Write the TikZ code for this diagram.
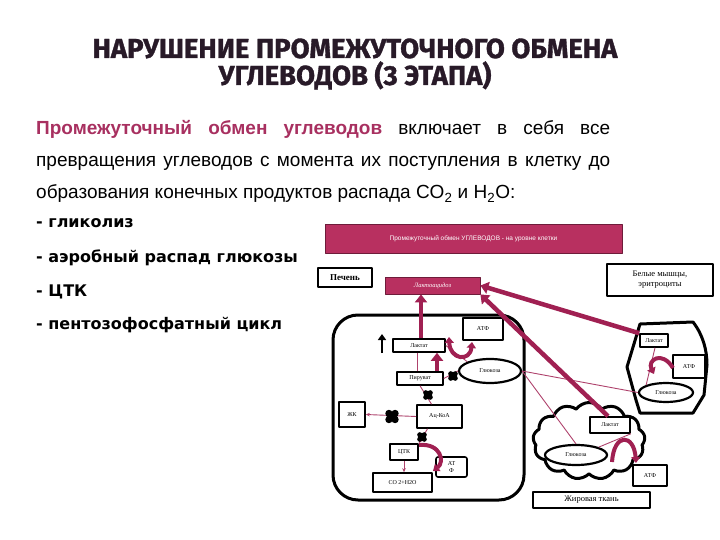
\documentclass[tikz,border=0pt]{standalone}
\usepackage{fontspec}
\setmainfont{Liberation Serif}
\newfontfamily\titlefont{Fira Sans}[BoldFeatures={FakeBold=1.2}]
\newfontfamily\parafont{Liberation Sans}
\newfontfamily\listfont{DejaVu Sans}
\usepackage{tikz}
\usetikzlibrary{positioning,arrows.meta,shapes.symbols,shapes.geometric}
\definecolor{magdeep}{RGB}{160,32,82}
\definecolor{magband}{RGB}{184,48,96}
\definecolor{magedge}{RGB}{110,28,58}
\definecolor{magtext}{RGB}{168,48,96}
\definecolor{titlecol}{RGB}{40,26,40}

\begin{document}
\begin{tikzpicture}[x=1pt, y=-1pt, line join=round,
  tagbox/.style={draw, fill=white, line width=1.6pt, font=\fontsize{6}{7}\selectfont, inner sep=0pt},
  sugar/.style={ellipse, draw, fill=white, line width=2.2pt, font=\fontsize{6}{7}\selectfont, inner sep=0pt},
  namebox/.style={draw, fill=white, line width=2.4pt, inner sep=0pt, align=center},
  thin/.style={magdeep!85, line width=0.9pt},
  thinarr/.style={thin, -{Stealth[length=4pt,width=3.5pt]}},
  fatarr/.style={magdeep, line width=4.5pt, -{Triangle[width=12pt,length=8pt]}},
  curl/.style={magdeep, line width=4pt, -{Triangle[width=9pt,length=6pt]}},
  stopmark/.pic={\fill (-2.2,-2.2) circle (2.6) (2.2,-2.2) circle (2.6) (-2.2,2.2) circle (2.6) (2.2,2.2) circle (2.6) (0,0) circle (2.6);}]
\useasboundingbox (0,0) rectangle (720,540);
% ---- title and text
\node[font=\titlefont\bfseries\fontsize{27.5}{27}\selectfont, text=titlecol, align=center] (title) at (355,64)
  {НАРУШЕНИЕ ПРОМЕЖУТОЧНОГО ОБМЕНА\\УГЛЕВОДОВ (3 ЭТАПА)};
\node[anchor=base west, inner sep=0pt, font=\parafont\fontsize{19}{22}\selectfont] (p1) at (36,135)
  {\makebox[574pt][s]{\textcolor{magtext}{\bfseries Промежуточный обмен углеводов} включает в себя все}};
\node[anchor=base west, inner sep=0pt, font=\parafont\fontsize{19}{22}\selectfont] (p2) at (36,167)
  {\makebox[574pt][s]{превращения углеводов с момента их поступления в клетку до}};
\node[anchor=base west, inner sep=0pt, font=\parafont\fontsize{19}{22}\selectfont] (p3) at (36,199)
  {образования конечных продуктов распада CO\textsubscript{2} и H\textsubscript{2}O:};
\foreach \txt/\yy [count=\i] in {гликолиз/228, аэробный распад глюкозы/262, ЦТК/296, пентозофосфатный цикл/329}
  \node[anchor=base west, inner sep=0pt, font=\listfont\bfseries\fontsize{16}{19}\selectfont] (l\i) at (36,\yy) {- \txt};
% ---- top row
\node[draw=magedge, fill=magband, line width=1pt, minimum width=297pt, minimum height=28pt, text=white,
  font=\parafont\fontsize{6.5}{7}\selectfont] (band) at (473.5,239) {Промежуточный обмен УГЛЕВОДОВ - на уровне клетки};
\node[namebox, minimum width=54pt, minimum height=19pt, font=\bfseries\fontsize{9}{10}\selectfont] (liverName) at (345,277.5) {Печень};
\node[draw=magedge, fill=magband, line width=0.8pt, minimum width=95pt, minimum height=17pt, text=white,
  font=\itshape\fontsize{6.5}{7}\selectfont] (lacto) at (432.5,285.5) {Лактоацидоз};
\node[namebox, minimum width=106pt, minimum height=32pt, font=\fontsize{8.5}{10}\selectfont] (muscName) at (660,280) {Белые мышцы,\\эритроциты};
% ---- liver cell
\node[draw, line width=3pt, rounded corners=25pt, minimum width=191pt, minimum height=185pt] (liver) at (428.5,407.5) {};
\node[tagbox, minimum width=40pt, minimum height=22pt] (atpL) at (483,329) {АТФ};
\node[tagbox, minimum width=52pt, minimum height=13pt] (lacL) at (419,345.5) {Лактат};
\node[tagbox, minimum width=46pt, minimum height=13pt] (pyrL) at (420,378.5) {Пируват};
\node[sugar, minimum width=62pt, minimum height=24pt] (gluL) at (490,371) {Глюкоза};
\node[tagbox, minimum width=26pt, minimum height=25pt] (fa) at (352,414.5) {ЖК};
\node[tagbox, minimum width=45pt, minimum height=23pt] (acoa) at (439.5,416.5) {Ац-КоА};
\node[tagbox, minimum width=28pt, minimum height=16pt] (tca) at (404,452) {ЦТК};
\node[tagbox, rounded corners=2pt, minimum width=31pt, minimum height=20pt, align=center] (atpT) at (451.5,467) {АТ\\Ф};
\node[tagbox, minimum width=59pt, minimum height=19pt] (co2) at (402.5,482.5) {СО 2+Н2О};
\coordinate (upBot) at (382,353);
\coordinate (upTop) at (382,334);
\draw[-{Triangle[width=8pt,length=6pt]}, line width=2.6pt] (upBot) -- (upTop);
\draw[thin] ([xshift=-2pt]lacL.south) -- ([xshift=-2pt]lacL.south |- pyrL.north);
\draw[thin] (gluL.north west) -- (lacL.east);
\draw[thin] (gluL.west) -- (pyrL.east);
\draw[thin] (pyrL.south) -- ([xshift=-8pt]acoa.north);
\draw[thinarr] (acoa.west) -- (fa.east);
\draw[thinarr] ([xshift=-12pt]acoa.south) -- (tca.north east);
\draw[thinarr] (tca.south) -- (tca.south |- co2.north);
\draw[fatarr] ([xshift=2pt]lacL.north) -- ([xshift=2pt]lacL.north |- lacto.south);
\draw[fatarr] ([xshift=17pt]pyrL.north) -- ([xshift=17pt]pyrL.north |- lacL.south);
\draw[curl, {Triangle[width=9pt,length=6pt]}-{Triangle[width=9pt,length=6pt]}] (449,337) .. controls (450,360) and (470,362) .. (472,342);
\draw[curl] (419,445) .. controls (441,443) and (445,462) .. (433,471);
\pic at (453,376) {stopmark};
\pic at (428,395) {stopmark};
\pic[scale=1.4] at (392,416.5) {stopmark};
\pic at (422,437) {stopmark};
% ---- muscle cell
\draw[line width=3pt] (640,324) -- (693,322) .. controls (703,335) and (707,350) .. (707,365) -- (704,395)
  -- (693,413) -- (640,413) -- (636,400) -- (627,367) -- cycle;
\node[tagbox, minimum width=28pt, minimum height=13pt] (lacM) at (654,340.5) {Лактат};
\node[tagbox, minimum width=32pt, minimum height=23pt] (atpM) at (689,366.5) {АТФ};
\node[sugar, minimum width=54pt, minimum height=19pt] (gluM) at (666,392.5) {Глюкоза};
\draw[thin] ([xshift=1pt]lacM.south) -- (gluM.north west);
\draw[curl] (673,368) .. controls (662,350) and (647,360) .. (654,374);
% ---- fat tissue
\node[cloud, draw, line width=3pt, cloud puffs=13, cloud puff arc=110, aspect=1.45, minimum width=112pt, minimum height=77pt] (fat) at (589,441) {};
\node[tagbox, minimum width=40pt, minimum height=16pt] (lacF) at (610,425) {Лактат};
\node[sugar, minimum width=62pt, minimum height=20pt] (gluF) at (576,455) {Глюкоза};
\node[tagbox, minimum width=34pt, minimum height=21pt] (atpF) at (650,475.5) {АТФ};
\node[namebox, line width=2pt, minimum width=117pt, minimum height=16pt, font=\fontsize{8.5}{9}\selectfont] (fatName) at (591.5,500) {Жировая ткань};
\draw[thin] (gluF.north east) -- (lacF.south east);
\draw[curl] (612,462) .. controls (614,432) and (634,434) .. (636,463);
% ---- exchange between organs
\draw[thin] (gluL.east) -- (gluM.west);
\draw[thin] (gluL.east) -- (gluF.north);
\draw[fatarr] (lacM.north west) -- (lacto.east);
\draw[fatarr] ([xshift=-2pt]lacF.north) -- (lacto.south east);
\end{tikzpicture}
\end{document}
